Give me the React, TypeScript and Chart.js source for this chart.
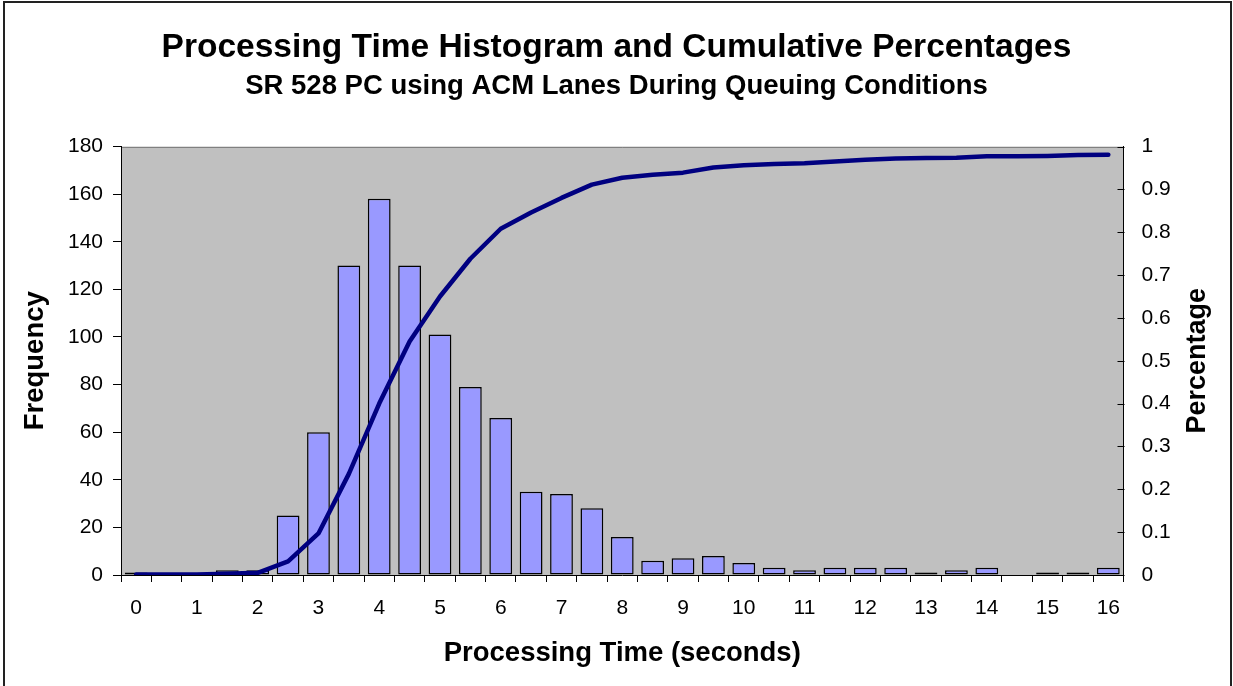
import React, { useEffect, useRef } from "react";
import { Chart, registerables } from "chart.js";

Chart.register(...registerables);

const categories = [0, 0.5, 1, 1.5, 2, 2.5, 3, 3.5, 4, 4.5, 5, 5.5, 6, 6.5, 7, 7.5, 8, 8.5, 9, 9.5, 10, 10.5, 11, 11.5, 12, 12.5, 13, 13.5, 14, 14.5, 15, 15.5, 16];
const frequency = [1, 0, 0, 2, 2, 25, 60, 130, 158, 130, 101, 79, 66, 35, 34, 28, 16, 6, 7, 8, 5, 3, 2, 3, 3, 3, 1, 2, 3, 0, 1, 1, 3];
const cumulative = [0.001, 0.001, 0.001, 0.003, 0.005, 0.032, 0.097, 0.236, 0.4, 0.545, 0.65, 0.738, 0.808, 0.846, 0.88, 0.911, 0.927, 0.934, 0.939, 0.951, 0.956, 0.959, 0.961, 0.965, 0.969, 0.972, 0.973, 0.974, 0.977, 0.977, 0.978, 0.98, 0.981];

const titleText = "Processing Time Histogram and Cumulative Percentages";
const subtitleText = "SR 528 PC using ACM Lanes During Queuing Conditions";
const xTitle = "Processing Time (seconds)";
const yTitle = "Frequency";
const y1Title = "Percentage";

const FONT = "'Liberation Sans', Arial, sans-serif";

const decorPlugin = {
  id: "decor",
  beforeDraw(chart: any) {
    const { ctx, chartArea } = chart;
    ctx.save();
    ctx.fillStyle = "#ffffff";
    ctx.fillRect(0, 0, chart.width, chart.height);
    ctx.fillStyle = "#c0c0c0";
    ctx.fillRect(chartArea.left, chartArea.top, chartArea.right - chartArea.left, chartArea.bottom - chartArea.top);
    ctx.strokeStyle = "#808080";
    ctx.lineWidth = 1;
    ctx.beginPath();
    ctx.moveTo(chartArea.left, Math.round(chartArea.top) + 0.5);
    ctx.lineTo(chartArea.right, Math.round(chartArea.top) + 0.5);
    ctx.stroke();
    ctx.restore();
  },
  afterDraw(chart: any) {
    const { ctx, chartArea } = chart;
    const s = chart.scales.y1;
    ctx.save();
    // inside tick marks on right axis
    ctx.strokeStyle = "#000000";
    ctx.lineWidth = 1;
    const rx = Math.round(chartArea.right) + 0.5;
    s.ticks.forEach((t: any) => {
      const py = Math.round(s.getPixelForValue(t.value)) + 0.5;
      ctx.beginPath();
      ctx.moveTo(rx - 7, py);
      ctx.lineTo(rx, py);
      ctx.stroke();
    });
    // right axis title, rotated like the left one
    ctx.fillStyle = "#000000";
    ctx.font = `bold 27px ${FONT}`;
    ctx.textAlign = "center";
    ctx.textBaseline = "middle";
    ctx.translate(1198, (chartArea.top + chartArea.bottom) / 2);
    ctx.rotate(-Math.PI / 2);
    ctx.fillText(y1Title, 0, 0);
    ctx.restore();
    // outer frame
    ctx.save();
    ctx.strokeStyle = "#222222";
    ctx.lineWidth = 2;
    ctx.beginPath();
    ctx.moveTo(4, 700);
    ctx.lineTo(4, 2);
    ctx.lineTo(1231, 2);
    ctx.lineTo(1231, 700);
    ctx.stroke();
    ctx.restore();
  },
};

export default function App() {
  const ref = useRef<HTMLCanvasElement | null>(null);

  useEffect(() => {
    document.body.style.margin = "0";
    const canvas = ref.current;
    if (!canvas) return;
    const chart = new Chart(canvas, {
      type: "bar",
      data: {
        labels: categories.map((c) => String(c)),
        datasets: [
          {
            type: "line",
            label: "Cumulative %",
            data: cumulative,
            yAxisID: "y1",
            borderColor: "#000080",
            backgroundColor: "#000080",
            borderWidth: 4.5,
            pointRadius: 0,
            tension: 0,
            borderCapStyle: "round",
            borderJoinStyle: "round",
            order: 0,
          } as any,
          {
            type: "bar",
            label: "Frequency",
            data: frequency,
            yAxisID: "y",
            backgroundColor: "#9999ff",
            borderColor: "#000000",
            borderWidth: 1.5,
            borderSkipped: false,
            barPercentage: 0.75,
            categoryPercentage: 1,
            order: 1,
          } as any,
        ],
      },
      options: {
        responsive: false,
        animation: false,
        events: [],
        layout: { padding: 0 },
        font: { family: FONT },
        plugins: {
          legend: { display: false },
          tooltip: { enabled: false },
          title: {
            display: true,
            text: titleText,
            color: "#000000",
            font: { family: FONT, size: 33.5, weight: "bold" },
            padding: { top: 27.5, bottom: 0 },
          },
          subtitle: {
            display: true,
            text: subtitleText,
            color: "#000000",
            font: { family: FONT, size: 27.5, weight: "bold" },
            padding: { top: 2.5, bottom: 43.3 },
          },
        },
        scales: {
          x: {
            type: "category",
            offset: true,
            grid: {
              offset: true,
              drawOnChartArea: false,
              drawTicks: true,
              tickLength: 7,
              color: "#000000",
            },
            border: { display: true, color: "#000000", width: 1 },
            ticks: {
              autoSkip: false,
              maxRotation: 0,
              minRotation: 0,
              padding: 13.5,
              color: "#000000",
              font: { family: FONT, size: 21 },
              callback: (_v: any, i: number) => (categories[i] % 1 === 0 ? String(categories[i]) : ""),
            },
            title: {
              display: true,
              text: xTitle,
              color: "#000000",
              font: { family: FONT, size: 27.5, weight: "bold" },
              padding: { top: 0, bottom: 16 },
            },
            afterFit: (s: any) => {
              s.height = 111;
            },
          },
          y: {
            type: "linear",
            position: "left",
            min: 0,
            max: 180,
            grid: {
              drawOnChartArea: false,
              drawTicks: true,
              tickLength: 8,
              color: "#000000",
            },
            border: { display: true, color: "#000000", width: 1 },
            ticks: {
              stepSize: 20,
              padding: 10,
              color: "#000000",
              font: { family: FONT, size: 21 },
            },
            title: {
              display: true,
              text: yTitle,
              color: "#000000",
              font: { family: FONT, size: 27.5, weight: "bold" },
              padding: { top: 19, bottom: 0 },
            },
            afterFit: (s: any) => {
              s.width = 121;
            },
          },
          y1: {
            type: "linear",
            position: "right",
            min: 0,
            max: 1,
            grid: {
              drawOnChartArea: false,
              drawTicks: false,
            },
            border: { display: true, color: "#000000", width: 1 },
            ticks: {
              stepSize: 0.1,
              padding: 18,
              color: "#000000",
              font: { family: FONT, size: 21 },
              callback: (v: any) => String(Math.round(Number(v) * 10) / 10),
            },
            afterFit: (s: any) => {
              s.width = 109.5;
            },
          },
        },
      } as any,
      plugins: [decorPlugin],
    });
    return () => {
      chart.destroy();
    };
  }, []);

  return (
    <div style={{ position: "absolute", left: 0, top: 0, width: 1233, height: 686, background: "#fff" }}>
      <canvas ref={ref} width={1233} height={686} style={{ width: 1233, height: 686, display: "block" }} />
    </div>
  );
}
